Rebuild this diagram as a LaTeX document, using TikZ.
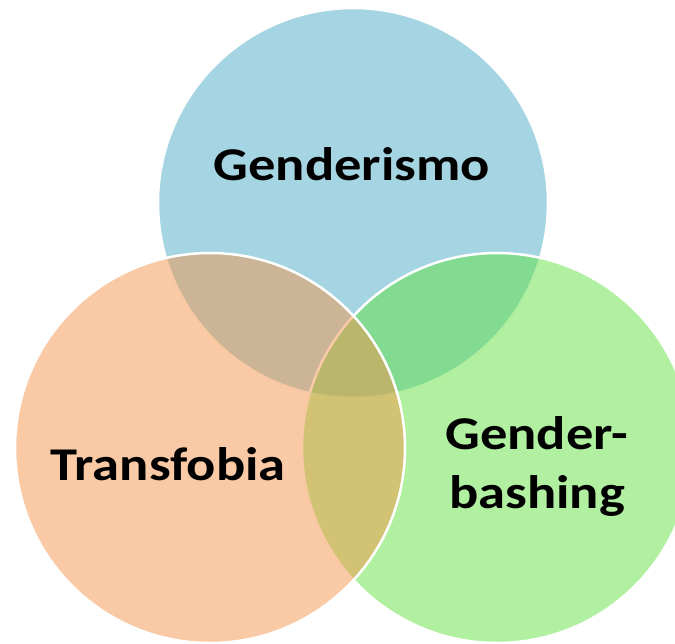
\documentclass[tikz,border=0pt]{standalone}
\usepackage{fontspec}
\setmainfont{Carlito}
\newfontfamily\lblfont[FakeStretch=1.16]{Carlito}
\usetikzlibrary{positioning}

\definecolor{blueset}{RGB}{75,171,197}
\definecolor{greenset}{RGB}{97,225,65}
\definecolor{orangeset}{RGB}{243,149,75}

\begin{document}
\begin{tikzpicture}[x=1pt,y=-1pt,
	set/.style={circle,draw=white,line width=2.5pt,minimum size=390pt,inner sep=0pt,fill opacity=0.5},
	lbl/.style={font=\lblfont\bfseries\fontsize{47}{59}\selectfont,align=center,inner sep=0pt}]
	\useasboundingbox (0,0) rectangle (675,643);
	% the three sets, blue first and orange on top
	\node[set,fill=blueset] (c_gen) at (353,203) {};
	\node[set,fill=greenset] (c_bash) at (497,448) {};
	\node[set,fill=orangeset] (c_trans) at (210,448) {};
	% labels
	\node[lbl,anchor=base] (l_gen) at (352,180) {Genderismo};
	\node[lbl,anchor=base] (l_trans) at (168,480) {Transfobia};
	\node[lbl,anchor=base] (l_bash) at (537,508) {Gender-\\bashing};
\end{tikzpicture}
\end{document}
